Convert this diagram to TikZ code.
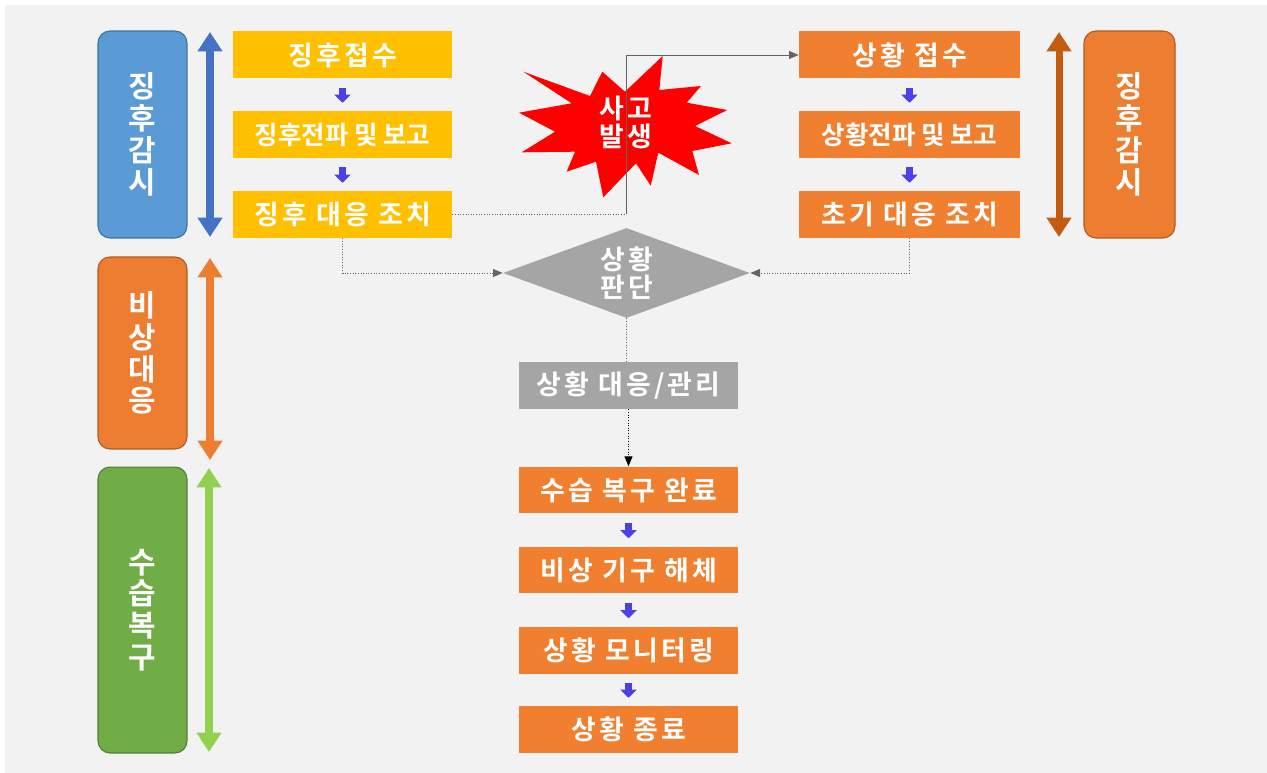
\documentclass[tikz,border=0pt]{standalone}
\usepackage{fontspec}
\usetikzlibrary{arrows.meta,shapes.geometric}
\newfontfamily\kr{Noto Sans CJK KR}[BoldFont={* Bold},LetterSpace=12]
\newfontfamily\krn{Noto Sans CJK KR}[BoldFont={* Bold}]
\definecolor{bg}{HTML}{F2F2F2}
\definecolor{yel}{HTML}{FFC000}
\definecolor{ora}{HTML}{F08030}
\definecolor{orad}{HTML}{AE5A21}
\definecolor{blu}{HTML}{5B9BD5}
\definecolor{blud}{HTML}{41719C}
\definecolor{grn}{HTML}{70AD47}
\definecolor{grnd}{HTML}{507E32}
\definecolor{gry}{HTML}{A5A5A5}
\definecolor{arrblue}{HTML}{4472C4}
\definecolor{arrorange}{HTML}{ED7D31}
\definecolor{arrgreen}{HTML}{92D050}
\definecolor{arrdark}{HTML}{C55A11}
\definecolor{smallblue}{RGB}{75,65,235}
\definecolor{linegray}{RGB}{100,100,100}
\begin{document}
\begin{tikzpicture}[x=0.02cm,y=-0.02cm,
  box/.style={rectangle, minimum width=4.38cm, minimum height=0.94cm, inner sep=0pt, text=white,
    font={\kr\bfseries\fontsize{15.3pt}{18pt}\selectfont}},
  boxsmall/.style={box, font={\krn\bfseries\fontsize{14.5pt}{17pt}\selectfont}},
  side/.style={rounded corners=0.24cm, minimum width=1.78cm, inner sep=0pt, text=white, align=center,
    line width=0.6pt, font={\krn\bfseries\fontsize{17pt}{18.1pt}\selectfont}},
  dbl/.style={line width=4pt, {Triangle[width=13.5pt,length=11pt]}-{Triangle[width=13.5pt,length=11pt]}},
  barrow/.style={draw=smallblue, line width=4.2pt, -{Triangle[width=9.2pt,length=4.6pt]}, shorten <=5.1pt, shorten >=4.5pt},
  conn/.style={draw=linegray, line width=0.5pt},
  tip/.style={-{Triangle[length=5.5pt,width=4.5pt]}},
  ctext/.style={text=white, align=center, inner sep=0pt, font={\kr\bfseries\fontsize{15.3pt}{15.9pt}\selectfont}}
]
\useasboundingbox (0,0) rectangle (1267,773);
\fill[bg] (5,5) rectangle (1267,773);

% side boxes
\node[side, fill=blu, draw=blud, minimum height=4.14cm] (sb1) at (142.5,134.5) {징\\후\\감\\시};
\node[side, fill=arrorange, draw=orad, minimum height=3.84cm] (sb2) at (142.5,353) {비\\상\\대\\응};
\node[side, fill=grn, draw=grnd, minimum height=5.72cm] (sb3) at (142.5,610) {수\\습\\복\\구};
\node[side, fill=arrorange, draw=orad, minimum height=4.14cm, minimum width=1.82cm] (sb4) at (1129.5,134.5) {징\\후\\감\\시};

% double arrows
\coordinate (ba1) at (210,32);  \coordinate (ba2) at (210,237);
\coordinate (oa1) at (210,258); \coordinate (oa2) at (210,460);
\coordinate (ga1) at (209,468); \coordinate (ga2) at (209,752);
\coordinate (ra1) at (1059,32); \coordinate (ra2) at (1059,237);
\draw[dbl, draw=arrblue, fill=arrblue] (ba1) -- (ba2);
\draw[dbl, draw=arrorange, fill=arrorange] (oa1) -- (oa2);
\draw[dbl, draw=arrgreen, fill=arrgreen] (ga1) -- (ga2);
\draw[dbl, draw=arrdark, fill=arrdark] (ra1) -- (ra2);

% left column
\node[box, fill=yel] (j1) at (342.5,55) {징후접수};
\node[boxsmall, fill=yel] (j2) at (342.5,134.5) {징후전파 및 보고};
\node[box, fill=yel] (j3) at (342.5,214.5) {징후 대응 조치};

% right column
\node[box, fill=ora, minimum width=4.42cm] (r1) at (909.5,55) {상황 접수};
\node[boxsmall, fill=ora, minimum width=4.42cm] (r2) at (909.5,134.5) {상황전파 및 보고};
\node[box, fill=ora, minimum width=4.42cm] (r3) at (909.5,214.5) {초기 대응 조치};

% star
\fill[red] (662.7,56) -- (659.3,90) -- (701,86) -- (686.7,102.7) -- (727.3,110) -- (695,126)
  -- (731.7,143.3) -- (692.3,151) -- (699,175) -- (658.3,152.7) -- (650.7,185.7) -- (636,163.3)
  -- (603.3,197.3) -- (596,161.7) -- (566.7,171.7) -- (575,151.7) -- (521.7,152.3) -- (555,131.7)
  -- (519,112.7) -- (571.7,103.3) -- (523.3,71.7) -- (590,96) -- (602.3,71.7) -- (625,91.7) -- cycle;

% diamond
\node[diamond, fill=gry, minimum width=4.94cm, minimum height=1.8cm, aspect=2.74, ctext] (dia) at (626.5,273) {상황\\판단};

% centre column
\node[box, fill=gry] (g0) at (628.5,385.5) {상황 대응/관리};
\node[box, fill=ora] (b1) at (628.5,490) {수습 복구 완료};
\node[box, fill=ora] (b2) at (628.5,570) {비상 기구 해체};
\node[box, fill=ora] (b3) at (628.5,650) {상황 모니터링};
\node[box, fill=ora] (b4) at (628.5,729.5) {상황 종료};

% small blue arrows
\draw[barrow] (j1.south) -- (j2.north);
\draw[barrow] (j2.south) -- (j3.north);
\draw[barrow] (r1.south) -- (r2.north);
\draw[barrow] (r2.south) -- (r3.north);
\draw[barrow] (b1.south) -- (b2.north);
\draw[barrow] (b2.south) -- (b3.north);
\draw[barrow] (b3.south) -- (b4.north);

% connectors
\coordinate (bend) at (626,214.5);
\draw[conn, densely dotted] (j3.east) -- (bend);
\draw[conn, tip] (bend) |- (r1.west);
\node[ctext] (acc) at (626,122) {사고\\발생};
\draw[conn, densely dotted, tip] (j3.south) |- (dia.west);
\draw[conn, densely dotted, tip] (r3.south) |- (dia.east);
\draw[conn, densely dotted] (dia.south) -- (dia.south |- g0.north);
\draw[conn, densely dotted, tip, draw=black] (g0.south) -- (b1.north);
\end{tikzpicture}
\end{document}
